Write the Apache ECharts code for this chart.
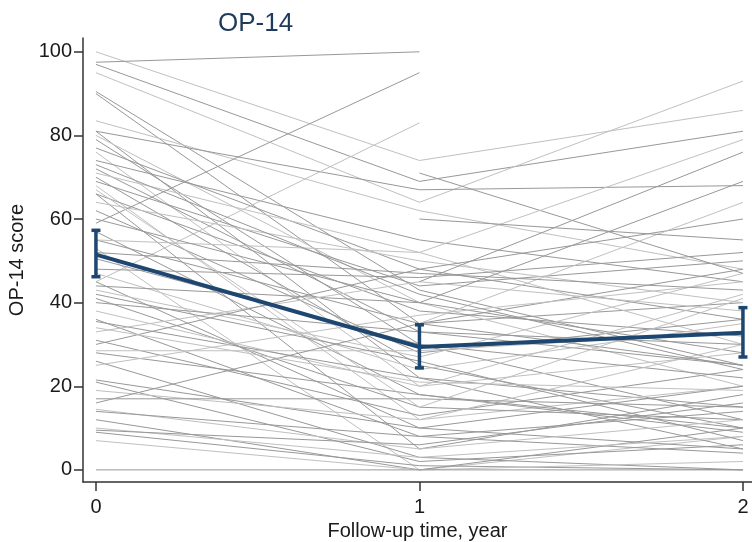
<!DOCTYPE html>
<html>
<head>
<meta charset="utf-8">
<script src="https://cdn.jsdelivr.net/npm/echarts@6/dist/echarts.min.js"></script>
<style>
html, body { margin: 0; padding: 0; background: #fff; }
#chart { width: 752px; height: 542px; }
</style>
</head>
<body>
<div id="chart"></div>
<script>
// follow-up years
var years = [0, 1, 2];

// individual OP-14 scores per patient (null = not measured)
var score0 = [100, 97.5, 97, 95, 90.5, 90, 83.5, 81, 81, 80, 79, 77, 76, 74, 72, 71, 70, 69, 68, 66,
              66, 64, 62, 59, 45, 57, 55, 53, 50.5, 48, 47, 45, 44, 43, 41, 40, 38, 36, 35.5, 33,
              31, 30, 28.5, 28, 26, 25, 21.5, 21, 19, 17, 16, 14.5, 14, 12, 10, 9.5, 9, 7, 0,
              null, 55, null, 60, null, null, 73, 67, 52, 42, 34];
var score1 = [74, 100, 69, 64, 43, 35, 62, 67, 22, 40, 30, 48, 20, 55, 33, 52, 25, 44, 12, 38,
              5, 50, 28, 95, 83, 18, 35, 0, 30, 46, 24, 10, 40, 27, 15, 33, 20, 8, 22, 45,
              13, 48, 28.5, 18, 3, 37, 10, 2, 12, 17, 35, 5, 8, 0, 3, 6, 1, 0, 0,
              71, 52, 45, 40, 35, 60, 42, 15, 47, 26, 21];
var score2 = [86, null, 81, 93, 25, 40, 48, 68, 15, 20, 12, 36, 28, 45, 25, 30, 10, 50, 20, 32,
              18, 40, 36, null, null, 9, 48, 8, 22, 52, 35, 5, 28, 47, 12, 30, 42, 14, 5, 38,
              24, 60, 33, 10, 0, 45, 20, 6, 30, 15, 25, 12, 4, 10, 8, 16, 0, 2, 0,
              47, 79, 76, 69, 64, 55, 24, 41, 43, 7, 19];

// mean and 95% CI
var meanScore = [51.5, 29.4, 32.8];
var ciLow = [46.2, 24.4, 27.0];
var ciHigh = [57.3, 34.7, 38.8];

var yTicks = [0, 20, 40, 60, 80, 100];
var xTicks = [0, 1, 2];

var series = [];
for (var i = 0; i < score0.length; i++) {
    var pts = [];
    var vals = [score0[i], score1[i], score2[i]];
    for (var j = 0; j < years.length; j++) {
        if (vals[j] !== null) pts.push([years[j], vals[j]]);
    }
    series.push({
        type: 'line',
        data: pts,
        symbol: 'none',
        silent: true,
        z: 1,
        lineStyle: {
            width: 1,
            color: (i % 3 == 0) ? '#c0c0c0' : '#989898'
        }
    });
}

series.push({
    type: 'line',
    data: years.map(function (y, k) { return [y, meanScore[k]]; }),
    symbol: 'none',
    z: 5,
    lineStyle: { width: 4, color: '#1d4670' }
});

// error bars
series.push({
    type: 'custom',
    z: 6,
    data: years.map(function (y, k) { return [y, ciLow[k], ciHigh[k]]; }),
    renderItem: function (params, api) {
        var lo = api.coord([api.value(0), api.value(1)]);
        var hi = api.coord([api.value(0), api.value(2)]);
        var w = 4.5;
        var st = { stroke: '#1d4670', lineWidth: 3.5 };
        return {
            type: 'group',
            children: [
                { type: 'line', shape: { x1: lo[0], y1: lo[1], x2: hi[0], y2: hi[1] }, style: st },
                { type: 'line', shape: { x1: lo[0] - w, y1: lo[1], x2: lo[0] + w, y2: lo[1] }, style: st },
                { type: 'line', shape: { x1: hi[0] - w, y1: hi[1], x2: hi[0] + w, y2: hi[1] }, style: st }
            ]
        };
    }
});

var option = {
    animation: false,
    backgroundColor: '#fff',
    textStyle: { fontFamily: 'Liberation Sans' },
    title: {
        text: 'OP-14',
        left: 213,
        top: 6,
        textStyle: { fontSize: 26, fontWeight: 'normal', color: '#1f3b5c', fontFamily: 'Liberation Sans' }
    },
    grid: { left: 83, right: 0, top: 38, bottom: 60, outerBoundsMode: 'none' },
    xAxis: {
        type: 'value',
        min: -0.04,
        max: 2.028,
        name: 'Follow-up time, year',
        nameLocation: 'middle',
        nameGap: 32,
        nameTextStyle: { fontSize: 20, color: '#1a1a1a' },
        splitLine: { show: false },
        axisLine: { onZero: false, lineStyle: { color: '#333', width: 1.5 } },
        axisTick: { customValues: xTicks, length: 9, lineStyle: { color: '#333', width: 1.5 } },
        axisLabel: { customValues: xTicks, fontSize: 20, color: '#1a1a1a', margin: 15 }
    },
    yAxis: {
        type: 'value',
        min: -2.9,
        max: 103.3,
        name: 'OP-14 score',
        nameLocation: 'middle',
        nameGap: 55,
        nameTextStyle: { fontSize: 20, color: '#1a1a1a' },
        splitLine: { show: false },
        axisLine: { show: true, onZero: false, lineStyle: { color: '#333', width: 1.5 } },
        axisTick: { show: true, customValues: yTicks, length: 9, lineStyle: { color: '#333', width: 1.5 } },
        axisLabel: { customValues: yTicks, fontSize: 20, color: '#1a1a1a', margin: 11 }
    },
    series: series
};

var chart = echarts.init(document.getElementById('chart'));
chart.setOption(option);
</script>
</body>
</html>
